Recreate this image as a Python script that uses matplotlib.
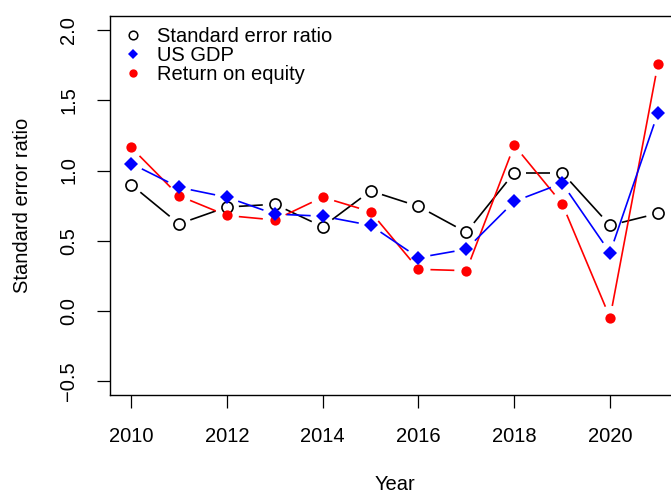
import numpy as np
import matplotlib
matplotlib.use("Agg")
import matplotlib.pyplot as plt
from matplotlib.lines import Line2D

years = [2010, 2011, 2012, 2013, 2014, 2015, 2016, 2017, 2018, 2019, 2020, 2021]
se_ratio = [0.90, 0.62, 0.74, 0.76, 0.60, 0.855, 0.745, 0.56, 0.985, 0.985, 0.61, 0.695]
us_gdp = [1.05, 0.88, 0.81, 0.69, 0.675, 0.61, 0.38, 0.44, 0.78, 0.91, 0.415, 1.41]
roe = [1.165, 0.82, 0.68, 0.648, 0.81, 0.707, 0.297, 0.287, 1.18, 0.764, -0.048, 1.758]
yticks = [-0.5, 0.0, 0.5, 1.0, 1.5, 2.0]
xticks = [2010, 2012, 2014, 2016, 2018, 2020]

plt.rcParams['font.family'] = ['Liberation Sans', 'DejaVu Sans']
W, H = 671, 493
fig = plt.figure(figsize=(W / 100, H / 100), dpi=100)
left, right, bottom, top = 110, 679, 395.3, 16
ax = fig.add_axes([left / W, 1 - bottom / H, (right - left) / W, (bottom - top) / H])
ax.set_xlim(2009.56, 2021.44)
ax.set_ylim(-0.6, 2.1)
fig.canvas.draw()

def b_type(x, y, color, marker, ms, mfc, mew, gap=12.0, z=2):
    pts = ax.transData.transform(np.column_stack([x, y]))
    inv = ax.transData.inverted()
    for i in range(len(pts) - 1):
        p0, p1 = pts[i], pts[i + 1]
        d = p1 - p0
        L = np.hypot(*d)
        if L <= 2 * gap:
            continue
        u = d / L
        a = inv.transform(p0 + u * gap)
        b = inv.transform(p1 - u * gap)
        ax.plot([a[0], b[0]], [a[1], b[1]], color=color, lw=1.2, zorder=z,
                solid_capstyle='butt')
    ax.plot(x, y, linestyle='none', marker=marker, ms=ms, mfc=mfc,
            mec=color, mew=mew, zorder=z + 0.5)

b_type(years, se_ratio, 'black', 'o', 8.0, 'none', 1.2, z=2)
b_type(years, roe, 'red', 'o', 7.4, 'red', 0, z=3)
b_type(years, us_gdp, 'blue', 'D', 7.3, 'blue', 0, z=4)

for s in ax.spines.values():
    s.set_linewidth(1.0)
ax.set_xticks(xticks)
ax.set_xticklabels([str(t) for t in xticks])
ax.set_yticks(yticks)
ax.set_yticklabels([f"{t:.1f}".replace('-', '\u2212') for t in yticks], rotation=90, va='center')
ax.tick_params(axis='both', length=9.3, width=0.9, labelsize=14.5, pad=13.5)
ax.set_xlabel('Year', fontsize=14.5, labelpad=21)
ax.set_ylabel('Standard error ratio', fontsize=14.5, labelpad=20)

handles = [
    Line2D([], [], ls='none', marker='o', ms=6.2, mfc='none', mec='black', mew=1.1),
    Line2D([], [], ls='none', marker='D', ms=4.8, mfc='blue', mec='blue', mew=0),
    Line2D([], [], ls='none', marker='o', ms=6.0, mfc='red', mec='red', mew=0),
]
ax.legend(handles, ['Standard error ratio', 'US GDP', 'Return on equity'],
          loc='upper left', bbox_to_anchor=(-0.002, 1.0 + 3.0 / (bottom - top)), frameon=False,
          fontsize=14.5, handlelength=1.0, handletextpad=0.7,
          labelspacing=0.0, borderaxespad=0.3)

fig.savefig('out.png', dpi=100)
